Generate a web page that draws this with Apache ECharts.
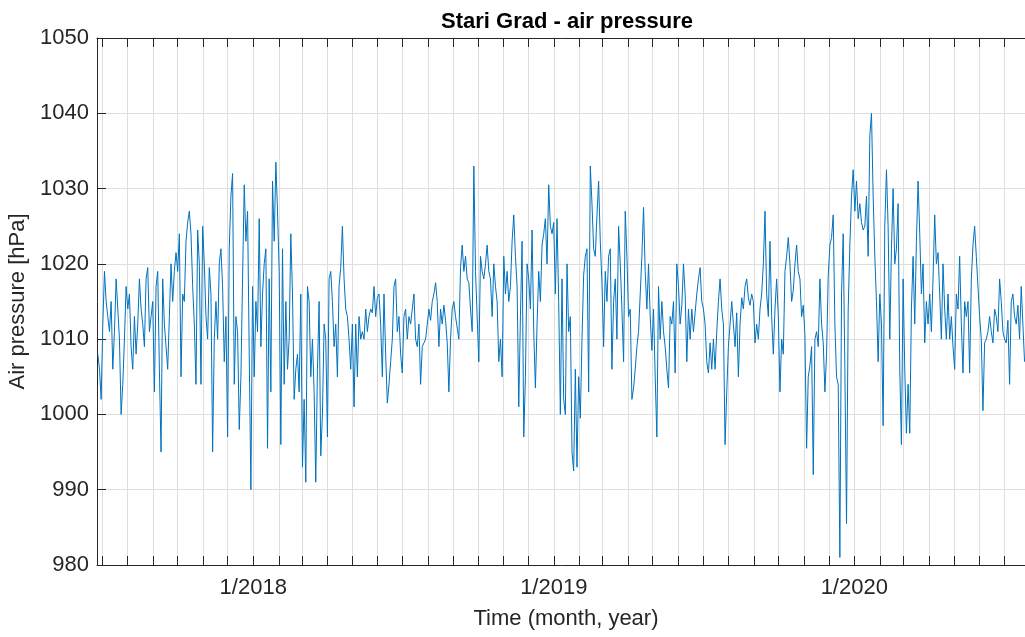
<!DOCTYPE html>
<html><head><meta charset="utf-8">
<script src="https://cdn.jsdelivr.net/npm/echarts@6/dist/echarts.min.js"></script>
<style>html,body{margin:0;padding:0;background:#fff}#c{width:1025px;height:637px}</style>
</head><body><div id="c"></div>
<script>
// ---- data (air pressure, hPa), sampled every stepHours from seriesStart ----
const seriesStart = '2017-06-26T05:00:00Z';
const stepHours = 48.5;
const pressureSeg1 = [1008,1006,1002,1012,1019,1015,1013,1011,1015,1006,
1011,1018,1014,1010,1000,1004,1010,1017,1014,1016,
1009,1006,1013,1008,1012,1018,1014,1012,1009,1018,
1019.5,1011,1013,1015,1003,1017,1019,1006,995,1018,
1012,1009,1006,1013,1020,1015,1019,1021.5,1019,1024,
1005,1016,1015,1023,1025.5,1027,1024,1017,1012,1004,
1024.5,1020,1004,1025,1020,1013,1010,1019.5,1016,995,
1010,1015,1010,1020,1022,1017,1007,1013,997,1022];
const pressureSeg2 = [1029,1032,1004,1013,1011,998,1005,1018,1030.5,1023,
1027,1008,990,1017,1005,1015,1011,1026,1009,1016,
1020,1022,995.5,1018,1003,1031,1023,1033.5,1027,1019,
996,1022,1004,1015,1006,1010,1024,1016,1002,1006,
1008,1003,1016,993,1002,991,1017,1015,1005,1010,
1003,991,1006,1015,994.5,1000,1012,1010,997,1018,
1019,1015,1009,1012,1005,1017,1019.5,1025,1018,1014,
1013,1010,1006,1012,1001,1012,1005,1013,1010,1011];
const pressureSeg3 = [1010,1014,1011,1013,1014,1013.5,1017,1013,1015.5,1016,
1012,1005,1016,1008,1001.5,1004,1007,1010,1017,1018,
1011,1013,1008,1005.5,1013,1014,1010,1013,1012,1014,
1016,1010,1009,1012,1004,1009,1009.5,1010,1012,1014,
1012.5,1015,1016,1017.5,1015,1009,1014,1012,1014.5,1012.5,
1009.5,1003,1010,1014,1015,1013,1013,1010,1019.5,1022.5,
1019,1021,1018,1017.5,1014,1011,1033,1019,1013,1007,
1021,1019,1018,1020,1022.5,1019,1018,1013,1020,1017];
const pressureSeg4 = [1015,1007,1010,1005,1021,1016,1019,1015,1017,1023,
1026.5,1021,1017,1001,1013,1023,997,1005,1020,1018,
1014,1024.5,1011,1003.5,1012,1019,1015,1022.5,1024,1026,
1020,1030.5,1025,1024,1025.5,1016,1026,1015,1000,1018,
1002,1000,1020,1011,1013,995,992.5,1006,993,1005,
999.5,1010,1018.5,1021,1022,1003,1033,1028,1022,1021,
1026.5,1031,1023,1017.5,1009,1019,1015,1021,1022,1006,
1015,1018,1010,1025,1020,1014,1007,1027,1021,1013];
const pressureSeg5 = [1014,1002,1003.5,1006,1009,1011,1016,1021,1027.5,1019,
1014,1020,1013,1008.5,1014,1005,997,1017,1010,1015,
1011,1009,1006,1003.5,1013,1012,1015,1005.5,1020,1017,
1012,1014.5,1020,1016,1007,1014,1010,1014,1011,1013.5,
1016,1018,1019.5,1015,1014,1012,1007,1005.5,1009.5,1006,
1010,1006,1011,1015,1018,1014,1012,996,1003,1009,
1012,1015,1012,1009,1013.5,1005,1012,1015.5,1014,1017,
1018,1015.5,1014.5,1016,1015,1009.5,1012,1010,1014,1016];
const pressureSeg6 = [1020,1027,1016,1013,1023,1013,1008,1014,1018,1013,
1003,1010,1008,1019,1021,1023.5,1020,1015,1016.5,1020,
1022.5,1019,1018,1013,1014.5,1010.5,995.5,1005,1006.5,1009,
992,1010,1011,1009,1018,1012,1009.5,1003,1008,1018.5,
1022.5,1023.5,1026.5,1012,1005,1004,981,1016,1024,1006,
985.5,1014,1022.5,1029,1032.5,1027,1031,1026,1028,1025.5,
1024.5,1025,1029,1021,1037,1040,1029,1021,1015,1007,
1016,1012,998.5,1025,1032.5,1025,1010,1022,1030,1020];
const pressureSeg7 = [1022,1028,1006,996,1018,1006,997.5,1004,997.5,1014,
1021,1012,1023,1031,1024,1016,1020,1009.5,1015,1012,
1016,1011,1018,1026.5,1020,1021.5,1016,1010,1020,1014,
1010,1016,1010,1013,1009,1006,1016,1014,1021,1012,
1005.5,1015,1013,1015,1005.5,1018,1022.5,1025,1021,1017,
1013,1010,1000.5,1009.5,1010,1011,1013,1011,1009.5,1014,
1013,1011,1018,1015,1011,1010,1009.5,1012.5,1004,1015,
1016,1013,1012,1014.5,1010,1017,1012,1007];

// ---- axis definitions ----
const xRange = ['2017-06-25T05:00:00Z', '2020-08-07T12:00:00Z'];
const yRange = [980, 1050];
const yStep = 10;
const xLabelDates = ['2018-01-01T00:00:00Z', '2019-01-01T00:00:00Z', '2020-01-01T00:00:00Z'];
const xLabelTexts = ['1/2018', '1/2019', '1/2020'];
const tickFirstMonth = [2017, 6];   // July 2017 (0-based month)
const tickLastMonth = [2020, 7];    // August 2020

// ---- build ----
const allPressure = [].concat(pressureSeg1, pressureSeg2, pressureSeg3, pressureSeg4,
  pressureSeg5, pressureSeg6, pressureSeg7);
const t0 = Date.parse(seriesStart);
const seriesData = allPressure.map((v, i) => [t0 + i * stepHours * 3600000, v]);

const monthTicks = [];
{
  let y = tickFirstMonth[0], m = tickFirstMonth[1];
  while (y < tickLastMonth[0] || (y === tickLastMonth[0] && m <= tickLastMonth[1])) {
    monthTicks.push(Date.UTC(y, m, 1));
    m++; if (m > 11) { m = 0; y++; }
  }
}
const labelTimes = xLabelDates.map(d => Date.parse(d));

const FONT = '"Liberation Sans", Arial, Helvetica, sans-serif';
const AX = '#262626';
const GRIDC = '#dedede';

const chart = echarts.init(document.getElementById('c'), null, {renderer: 'canvas'});
chart.setOption({
  animation: false,
  backgroundColor: '#ffffff',
  textStyle: {fontFamily: FONT},
  title: {
    text: 'Stari Grad - air pressure',
    left: 562, top: 6, textAlign: 'center',
    textStyle: {fontFamily: FONT, fontSize: 22, fontWeight: 'bold', color: '#000'}
  },
  grid: {left: 97, right: -10, top: 38, bottom: 72, containLabel: false, outerBoundsMode: 'none'},
  xAxis: [{
    type: 'value', position: 'bottom', scale: true,
    min: Date.parse(xRange[0]), max: Date.parse(xRange[1]),
    axisLine: {show: true, lineStyle: {color: AX, width: 1}},
    axisTick: {show: true, inside: true, length: 9, customValues: monthTicks, lineStyle: {color: AX}},
    axisLabel: {
      show: true, customValues: labelTimes, margin: 12, fontSize: 22, color: AX, fontFamily: FONT,
      formatter: (v) => { const i = labelTimes.indexOf(v); return i >= 0 ? xLabelTexts[i] : ''; }
    },
    splitLine: {show: true, lineStyle: {color: GRIDC, width: 1}},
    name: 'Time (month, year)', nameLocation: 'middle', nameGap: 43,
    nameTextStyle: {fontSize: 22, color: AX, fontFamily: FONT}
  }, {
    type: 'value', position: 'top', scale: true,
    min: Date.parse(xRange[0]), max: Date.parse(xRange[1]),
    axisLine: {show: true, lineStyle: {color: AX, width: 1}},
    axisTick: {show: true, inside: true, length: 9, customValues: monthTicks, lineStyle: {color: AX}},
    axisLabel: {show: false},
    splitLine: {show: false}
  }],
  yAxis: {
    type: 'value', min: yRange[0], max: yRange[1], interval: yStep,
    axisLine: {show: true, lineStyle: {color: AX, width: 1}},
    axisTick: {show: true, inside: true, length: 9, lineStyle: {color: AX}},
    axisLabel: {fontSize: 22, color: AX, margin: 8, fontFamily: FONT, formatter: (v) => String(v)},
    splitLine: {show: true, lineStyle: {color: GRIDC, width: 1}},
    name: 'Air pressure [hPa]', nameLocation: 'middle', nameGap: 58,
    nameTextStyle: {fontSize: 22, color: AX, fontFamily: FONT}
  },
  series: [{
    type: 'line', xAxisIndex: 0, data: seriesData,
    showSymbol: false, symbol: 'none',
    lineStyle: {color: '#0072BD', width: 1},
    itemStyle: {color: '#0072BD'},
    clip: true
  }]
});
</script></body></html>
